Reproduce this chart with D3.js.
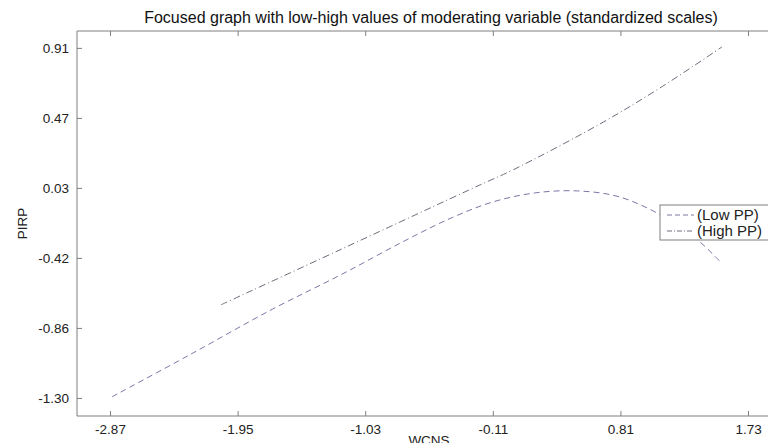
<!DOCTYPE html>
<html><head><meta charset="utf-8">
<script src="https://cdn.jsdelivr.net/npm/d3@7"></script>
<style>html,body{margin:0;padding:0;background:#fff;overflow:hidden}svg{display:block}text{font-family:"Liberation Sans",Arial,sans-serif}</style>
</head><body>
<svg id="c" width="768" height="443"></svg>
<script>
const title = "Focused graph with low-high values of moderating variable (standardized scales)";
const xTickLabels = ["-2.87","-1.95","-1.03","-0.11","0.81","1.73"];
const yTickLabels = ["0.91","0.47","0.03","-0.42","-0.86","-1.30"];
const seriesNames = ["(Low PP)","(High PP)"];
const lowX = [-2.856,-2.3,-1.7,-1.2,-0.75,-0.4,-0.1,0.2,0.5,0.8,1.1,1.35,1.53];
const lowY = [-1.293,-1.03,-0.74,-0.52,-0.31,-0.16,-0.06,-0.005,0.007,-0.03,-0.145,-0.29,-0.44];
const highX = [-2.07,-1.212,-0.202,0.036,0.663,1.095,1.542];
const highY = [-0.712,-0.365,0.045,0.14,0.43,0.657,0.916];

const svg = d3.select("#c");
const L = 77, T = 31, R = 785, B = 416;
const x = d3.scaleLinear().domain([-3.108, -3.108 + (R - L) / 138.7]).range([L, R]);
const y = d3.scaleLinear().domain([-1.414, -1.414 + (B - T) / 158.4]).range([B, T]);
const axisCol = "#7f7f7f";

const xt = xTickLabels.map(Number);
const yt = yTickLabels.map((d, i) => 0.91 - i * (2.21 / 5));

svg.append("line").attr("x1", L).attr("x2", R).attr("y1", T).attr("y2", T).attr("stroke", axisCol);
svg.append("line").attr("x1", L).attr("x2", R).attr("y1", B).attr("y2", B).attr("stroke", axisCol);
svg.append("line").attr("x1", L).attr("x2", L).attr("y1", T).attr("y2", B).attr("stroke", axisCol);

const xAxisB = d3.axisBottom(x).tickValues(xt).tickFormat((d, i) => xTickLabels[i]).tickSizeInner(-5).tickSizeOuter(0).tickPadding(8);
const gx = svg.append("g").attr("transform", `translate(0,${B})`).call(xAxisB);
gx.select(".domain").remove();
gx.selectAll("line").attr("stroke", axisCol);
gx.selectAll("text").attr("font-size", 13.5).attr("fill", "#222").attr("font-family", "Liberation Sans, Arial, sans-serif");

const xAxisT = d3.axisTop(x).tickValues(xt).tickFormat("").tickSizeInner(-5).tickSizeOuter(0);
const gxt = svg.append("g").attr("transform", `translate(0,${T})`).call(xAxisT);
gxt.select(".domain").remove();
gxt.selectAll("line").attr("stroke", axisCol);

const yAxis = d3.axisLeft(y).tickValues(yt).tickFormat((d, i) => yTickLabels[i]).tickSizeInner(-5).tickSizeOuter(0).tickPadding(8);
const gy = svg.append("g").attr("transform", `translate(${L},0)`).call(yAxis);
gy.select(".domain").remove();
gy.selectAll("line").attr("stroke", axisCol);
gy.selectAll("text").attr("font-size", 13.5).attr("fill", "#222").attr("font-family", "Liberation Sans, Arial, sans-serif");

svg.append("text").attr("x", 431).attr("y", 23).attr("text-anchor", "middle").attr("font-size", 16).attr("fill", "#111").text(title);
svg.append("text").attr("x", 429).attr("y", 445).attr("text-anchor", "middle").attr("font-size", 13.5).attr("fill", "#222").text("WCNS");
svg.append("text").attr("transform", `translate(27,${(T + B) / 2}) rotate(-90)`).attr("text-anchor", "middle").attr("font-size", 13.5).attr("fill", "#222").text("PIRP");

const line = d3.line().x(d => x(d[0])).y(d => y(d[1])).curve(d3.curveCatmullRom.alpha(0.5));
const lowCol = "#7878a8", highCol = "#6e6e7e";
svg.append("path").datum(lowX.map((v, i) => [v, lowY[i]])).attr("d", line).attr("fill", "none")
  .attr("stroke", lowCol).attr("stroke-width", 1).attr("stroke-dasharray", "6,4");
svg.append("path").datum(highX.map((v, i) => [v, highY[i]])).attr("d", line).attr("fill", "none")
  .attr("stroke", highCol).attr("stroke-width", 1).attr("stroke-dasharray", "7,3,1,3");

const lg = svg.append("g");
const lx = 660, ly = 205, lw = 112, lh = 35;
lg.append("rect").attr("x", lx).attr("y", ly).attr("width", lw).attr("height", lh).attr("fill", "#fff").attr("stroke", axisCol);
const dashes = ["5,3", "5,2,1,2"], cols = [lowCol, highCol];
seriesNames.forEach((n, i) => {
  const yy = ly + 10 + i * 16;
  lg.append("line").attr("x1", lx + 7).attr("x2", lx + 34).attr("y1", yy).attr("y2", yy)
    .attr("stroke", cols[i]).attr("stroke-dasharray", dashes[i]);
  lg.append("text").attr("x", lx + 37).attr("y", yy + 5).attr("font-size", 15).attr("fill", "#222").text(n);
});
</script>
</body></html>
